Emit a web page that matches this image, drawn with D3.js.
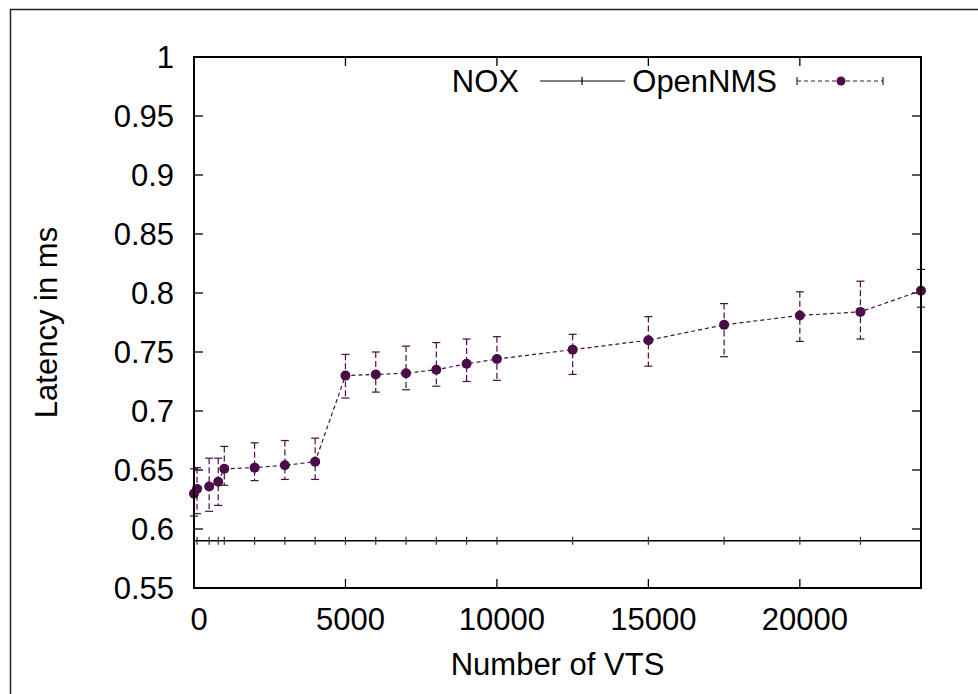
<!DOCTYPE html>
<html><head><meta charset="utf-8">
<script src="https://cdn.jsdelivr.net/npm/d3@7/dist/d3.min.js"></script>
<style>
html,body{margin:0;padding:0;background:#fff;}
svg{display:block;font-family:"Liberation Sans",Arial,Helvetica,sans-serif;}
</style></head>
<body>
<svg id="chart" width="978" height="694"></svg>
<script>
// ---- data ----
const vtsCounts = [0, 100, 500, 800, 1000, 2000, 3000, 4000, 5000, 6000, 7000, 8000, 9000, 10000, 12500, 15000, 17500, 20000, 22000, 24000];
const noxLatency = [0.59, 0.59, 0.59, 0.59, 0.59, 0.59, 0.59, 0.59, 0.59, 0.59, 0.59, 0.59, 0.59, 0.59, 0.59, 0.59, 0.59, 0.59, 0.59, 0.59];
const opennmsLatency = [0.630, 0.634, 0.636, 0.640, 0.651, 0.652, 0.654, 0.657, 0.730, 0.731, 0.732, 0.735, 0.740, 0.744, 0.752, 0.760, 0.773, 0.781, 0.784, 0.802];
const opennmsLow  = [0.611, 0.613, 0.615, 0.620, 0.637, 0.641, 0.642, 0.642, 0.711, 0.716, 0.718, 0.721, 0.725, 0.726, 0.731, 0.738, 0.746, 0.759, 0.761, 0.788];
const opennmsHigh = [0.651, 0.652, 0.660, 0.660, 0.670, 0.673, 0.675, 0.677, 0.748, 0.750, 0.755, 0.758, 0.761, 0.763, 0.765, 0.780, 0.791, 0.801, 0.810, 0.820];
const yTicks = [0.55, 0.6, 0.65, 0.7, 0.75, 0.8, 0.85, 0.9, 0.95, 1];
const xTicks = [0, 5000, 10000, 15000, 20000];
const seriesNames = ["NOX", "OpenNMS"];
const xTitle = "Number of VTS";
const yTitle = "Latency in ms";

const purple = "#4b0c48";
const svg = d3.select("#chart");
const L = 194, R = 921, T = 57, B = 588;
const x = d3.scaleLinear().domain([0, 24000]).range([L, R]);
const y = d3.scaleLinear().domain([0.55, 1]).range([B, T]);
const fs = 31;

// outer frame
svg.append("rect").attr("x", 10.5).attr("y", 9.5).attr("width", 1000).attr("height", 1000)
  .attr("fill", "none").attr("stroke", "#222").attr("stroke-width", 1.5);

// ticks (mirrored, inward)
const tl = 9;
const g = svg.append("g");
yTicks.forEach(v => {
  const yy = y(v);
  g.append("line").attr("x1", L).attr("x2", L + tl).attr("y1", yy).attr("y2", yy).attr("stroke", "#000").attr("stroke-width", 1.3);
  g.append("line").attr("x1", R).attr("x2", R - tl).attr("y1", yy).attr("y2", yy).attr("stroke", "#000").attr("stroke-width", 1.3);
  g.append("text").attr("x", 174).attr("y", yy).attr("dy", "0.36em").attr("text-anchor", "end")
    .attr("font-size", fs).attr("fill", "#000").text(d3.format("~g")(v));
});
xTicks.forEach(v => {
  const xx = x(v);
  g.append("line").attr("x1", xx).attr("x2", xx).attr("y1", B).attr("y2", B - tl).attr("stroke", "#000").attr("stroke-width", 1.3);
  g.append("line").attr("x1", xx).attr("x2", xx).attr("y1", T).attr("y2", T + tl).attr("stroke", "#000").attr("stroke-width", 1.3);
  g.append("text").attr("x", xx + 5).attr("y", 619).attr("dy", "0.36em").attr("text-anchor", "middle")
    .attr("font-size", fs).attr("fill", "#000").text(v);
});

// axis titles
svg.append("text").attr("x", (L + R) / 2).attr("y", 664).attr("dy", "0.36em").attr("text-anchor", "middle")
  .attr("font-size", fs).text(xTitle);
svg.append("text").attr("transform", `translate(46,${(T + B) / 2}) rotate(-90)`).attr("dy", "0.36em")
  .attr("text-anchor", "middle").attr("font-size", fs).text(yTitle);

// NOX series
const noxData = vtsCounts.map((v, i) => [v, noxLatency[i]]);
svg.append("path").datum(noxData)
  .attr("d", d3.line().x(d => x(d[0])).y(d => y(d[1])))
  .attr("fill", "none").attr("stroke", "#000").attr("stroke-width", 1.5);
svg.append("g").selectAll("line").data(noxData).join("line")
  .attr("x1", d => x(d[0])).attr("x2", d => x(d[0]))
  .attr("y1", d => y(d[1]) - 4).attr("y2", d => y(d[1]) + 4)
  .attr("stroke", "#333").attr("stroke-width", 1.2);

// OpenNMS series
const onData = vtsCounts.map((v, i) => ({x: v, y: opennmsLatency[i], lo: opennmsLow[i], hi: opennmsHigh[i]}));
const eb = svg.append("g").attr("stroke", purple).attr("stroke-width", 1.2).attr("fill", "none");
onData.forEach(d => {
  const xx = x(d.x);
  eb.append("line").attr("x1", xx).attr("x2", xx).attr("y1", y(d.hi)).attr("y2", y(d.lo)).attr("stroke-dasharray", "6,3");
  eb.append("line").attr("x1", xx - 4).attr("x2", xx + 4).attr("y1", y(d.hi)).attr("y2", y(d.hi));
  eb.append("line").attr("x1", xx - 4).attr("x2", xx + 4).attr("y1", y(d.lo)).attr("y2", y(d.lo));
});
svg.append("path").datum(onData)
  .attr("d", d3.line().x(d => x(d.x)).y(d => y(d.y)))
  .attr("fill", "none").attr("stroke", purple).attr("stroke-width", 1.2).attr("stroke-dasharray", "4,3");
svg.append("g").selectAll("circle").data(onData).join("circle")
  .attr("cx", d => x(d.x)).attr("cy", d => y(d.y)).attr("r", 5).attr("fill", purple);

// plot border
svg.append("rect").attr("x", L).attr("y", T).attr("width", R - L).attr("height", B - T)
  .attr("fill", "none").attr("stroke", "#000").attr("stroke-width", 2);

// legend
const ly = 81;
svg.append("text").attr("x", 519).attr("y", ly).attr("dy", "0.36em").attr("text-anchor", "end").attr("font-size", fs).text(seriesNames[0]);
svg.append("line").attr("x1", 540).attr("x2", 625).attr("y1", ly).attr("y2", ly).attr("stroke", "#000").attr("stroke-width", 1.2);
svg.append("line").attr("x1", 582).attr("x2", 582).attr("y1", ly - 4).attr("y2", ly + 4).attr("stroke", "#000").attr("stroke-width", 1.2);
svg.append("text").attr("x", 777).attr("y", ly).attr("dy", "0.36em").attr("text-anchor", "end").attr("font-size", fs).text(seriesNames[1]);
svg.append("line").attr("x1", 797).attr("x2", 883).attr("y1", ly).attr("y2", ly).attr("stroke", purple).attr("stroke-width", 1.2).attr("stroke-dasharray", "4,3");
[797, 883].forEach(xx => svg.append("line").attr("x1", xx).attr("x2", xx).attr("y1", ly - 4).attr("y2", ly + 4).attr("stroke", purple).attr("stroke-width", 1.2));
svg.append("circle").attr("cx", 841).attr("cy", ly).attr("r", 4.5).attr("fill", purple);
</script>
</body></html>
